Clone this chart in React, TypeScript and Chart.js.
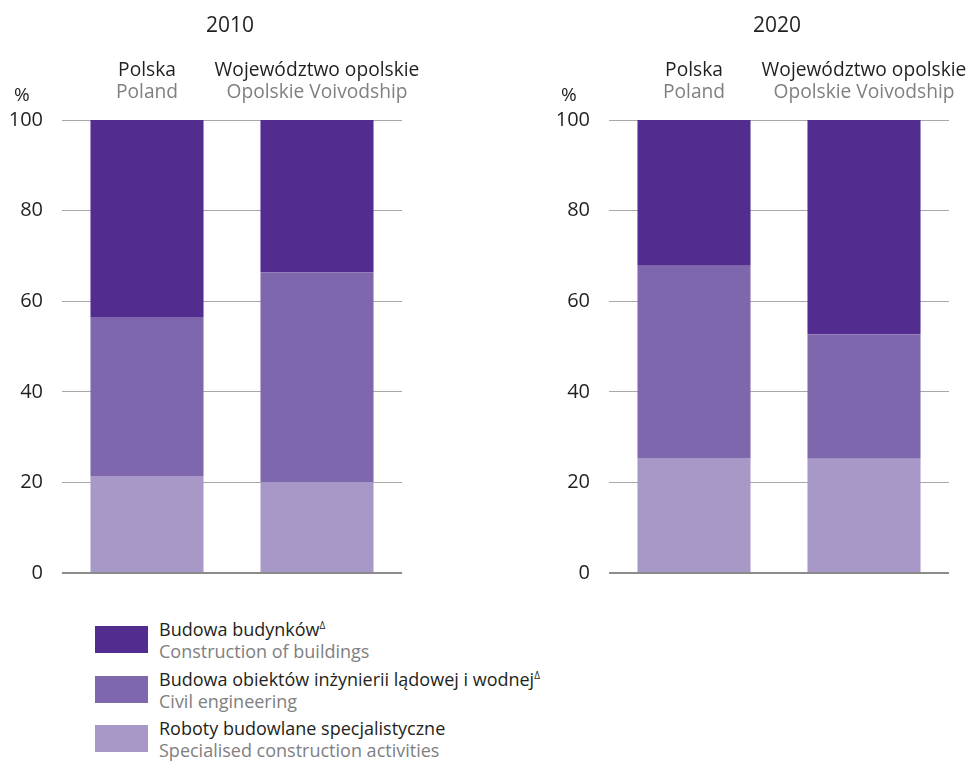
import React, { useEffect, useRef } from "react";
import { Chart, registerables } from "chart.js";

Chart.register(...registerables);

const years = ["2010", "2020"];
const categoriesPl = ["Polska", "Województwo opolskie"];
const categoriesEn = ["Poland", "Opolskie Voivodship"];

// [Polska, Województwo opolskie]
const buildings2010 = [43.5, 33.6];
const civil2010 = [35.1, 46.3];
const specialised2010 = [21.4, 20.1];

const buildings2020 = [32.2, 47.3];
const civil2020 = [42.4, 27.5];
const specialised2020 = [25.4, 25.2];

const yMin = 0;
const yMax = 100;
const yStep = 20;

const seriesPl = [
  "Budowa budynków",
  "Budowa obiektów inżynierii lądowej i wodnej",
  "Roboty budowlane specjalistyczne",
];
const seriesEn = [
  "Construction of buildings",
  "Civil engineering",
  "Specialised construction activities",
];
const seriesMark = ["Δ", "Δ", ""];
const seriesColors = ["#522d8f", "#7e67ad", "#a898c8"];

const FONT = "'Open Sans', 'Noto Sans', sans-serif";
const DARK = "#231f20";
const GREY = "#808080";

const labelPlugin = {
  id: "labelPlugin",
  afterDraw(chart: any, _args: any, opts: any) {
    const { ctx, chartArea, scales } = chart;
    ctx.save();
    ctx.font = `21px ${FONT}`;
    ctx.fillStyle = DARK;
    ctx.textAlign = "center";
    ctx.textBaseline = "alphabetic";
    ctx.fillText(opts.title, (chartArea.left + chartArea.right) / 2 - 2, 32);
    ctx.font = `19.2px ${FONT}`;
    categoriesPl.forEach((c, i) => {
      const x = scales.x.getPixelForValue(i);
      ctx.fillStyle = DARK;
      ctx.fillText(c, x, 76);
      ctx.fillStyle = GREY;
      ctx.fillText(categoriesEn[i], x, 98);
    });
    ctx.fillStyle = DARK;
    ctx.textAlign = "left";
    ctx.font = `19px ${FONT}`;
    ctx.fillText("%", chartArea.left - 48, 101);
    ctx.restore();
  },
};

function StackChart({ title, data }: { title: string; data: number[][] }) {
  const ref = useRef<HTMLCanvasElement>(null);
  useEffect(() => {
    if (!ref.current) return;
    const order = [2, 1, 0]; // bottom to top: specialised, civil, buildings
    const chart = new Chart(ref.current, {
      type: "bar",
      data: {
        labels: categoriesPl,
        datasets: order.map((k) => ({
          label: seriesPl[k],
          data: data[k],
          backgroundColor: seriesColors[k],
          borderWidth: 0,
          barPercentage: 1,
          categoryPercentage: 0.665,
        })),
      },
      options: {
        responsive: false,
        animation: false,
        layout: { padding: { top: 120, bottom: 27, left: 0, right: 25 } },
        plugins: {
          legend: { display: false },
          tooltip: { enabled: false },
          labelPlugin: { title },
        } as any,
        scales: {
          x: { stacked: true, display: false },
          y: {
            stacked: true,
            min: yMin,
            max: yMax,
            ticks: {
              stepSize: yStep,
              padding: 19,
              color: DARK,
              font: { family: FONT, size: 20 },
            },
            border: { display: false },
            grid: {
              drawTicks: false,
              color: (c: any) => (c.tick && c.tick.value === 0 ? "#8c8c8c" : "#a8a8a8"),
              lineWidth: (c: any) => (c.tick && c.tick.value === 0 ? 2 : 1),
            },
            afterFit: (s: any) => {
              s.width = 62;
              s.paddingTop = 0;
              s.paddingBottom = 0;
            },
          },
        },
      },
      plugins: [labelPlugin],
    });
    return () => chart.destroy();
  }, [title, data]);
  return <canvas ref={ref} width={427} height={600} />;
}

const data2010 = [buildings2010, civil2010, specialised2010];
const data2020 = [buildings2020, civil2020, specialised2020];

export default function App() {
  return (
    <div
      style={{
        position: "absolute",
        left: 0,
        top: 0,
        width: 974,
        height: 762,
        background: "#fff",
        fontFamily: FONT,
      }}
    >
      <div style={{ position: "absolute", left: 0, top: 0 }}>
        <StackChart title={years[0]} data={data2010} />
      </div>
      <div style={{ position: "absolute", left: 547, top: 0 }}>
        <StackChart title={years[1]} data={data2020} />
      </div>
      <div style={{ position: "absolute", left: 95, top: 614 }}>
        {seriesPl.map((s, i) => (
          <div key={s} style={{ position: "relative", height: 49.5 }}>
            <div
              style={{
                position: "absolute",
                left: 0,
                top: 12,
                width: 53,
                height: 27,
                background: seriesColors[i],
              }}
            />
            <div
              style={{
                position: "absolute",
                left: 64,
                top: 4,
                fontSize: 18,
                lineHeight: "22px",
                whiteSpace: "nowrap",
              }}
            >
              <div style={{ color: DARK }}>
                {s}
                {seriesMark[i] ? (
                  <sup style={{ fontSize: 10, verticalAlign: "top", lineHeight: "14px" }}>
                    {seriesMark[i]}
                  </sup>
                ) : null}
              </div>
              <div style={{ color: GREY }}>{seriesEn[i]}</div>
            </div>
          </div>
        ))}
      </div>
    </div>
  );
}
